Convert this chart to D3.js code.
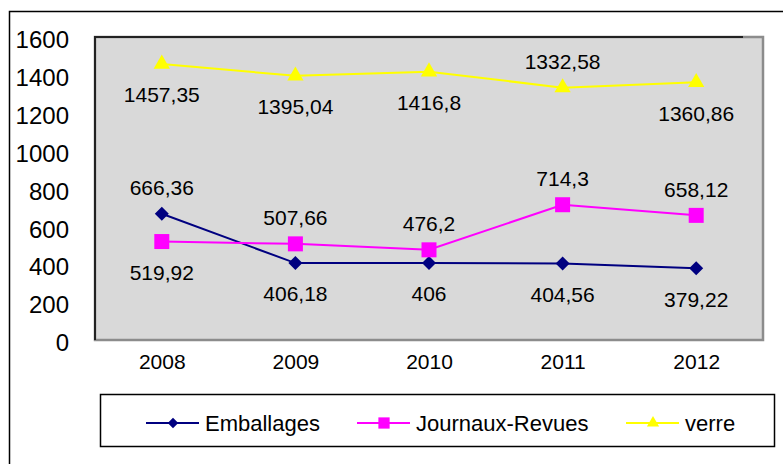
<!DOCTYPE html>
<html lang="fr">
<head>
  <meta charset="UTF-8">
  <title>Tonnages collectés</title>
  <script src="https://d3js.org/d3.v7.min.js"></script>
  <style>
    body {
      margin: 0;
      background: #ffffff;
      font-family: "Liberation Sans", Arial, sans-serif;
    }
    svg { display: block; }
    .tick-y text { font-size: 24px; fill: #000; }
    .tick-x text { font-size: 21px; fill: #000; }
    .label { font-size: 21px; fill: #000; }
    .legend text { font-size: 22px; fill: #000; }
  </style>
</head>
<body>
  <svg id="chart"></svg>
  <script>
    const years = ["2008", "2009", "2010", "2011", "2012"];
    const yTicks = [0, 200, 400, 600, 800, 1000, 1200, 1400, 1600];

    const emballages = [666.36, 406.18, 406, 404.56, 379.22];
    const journaux = [519.92, 507.66, 476.2, 714.3, 658.12];
    const verre = [1457.35, 1395.04, 1416.8, 1332.58, 1360.86];

    // where the value label sits relative to the point
    const emballagesPos = ["above", "below", "below", "below", "below"];
    const journauxPos = ["below", "above", "above", "above", "above"];
    const verrePos = ["below", "below", "below", "above", "below"];

    const series = [
      { name: "Emballages", values: emballages, pos: emballagesPos, color: "#000080", shape: "diamond" },
      { name: "Journaux-Revues", values: journaux, pos: journauxPos, color: "#ff00ff", shape: "square" },
      { name: "verre", values: verre, pos: verrePos, color: "#ffff00", shape: "triangle" }
    ];

    const W = 783, H = 464;
    const plot = { left: 95, top: 37, right: 763, bottom: 340 };

    const svg = d3.select("#chart").attr("width", W).attr("height", H);

    // outer chart frame (runs off the right and bottom edge)
    svg.append("rect")
       .attr("x", 9.5).attr("y", 11.5)
       .attr("width", W).attr("height", H)
       .attr("fill", "#fff")
       .attr("stroke", "#000")
       .attr("stroke-width", 1.5);

    // plot area
    svg.append("rect")
       .attr("x", plot.left).attr("y", plot.top)
       .attr("width", plot.right - plot.left).attr("height", plot.bottom - plot.top)
       .attr("fill", "#d9d9d9")
       .attr("stroke", "#8c8c8c")
       .attr("stroke-width", 2.5);
    svg.append("path")
       .attr("d", `M${plot.left},${plot.bottom} V${plot.top} H${plot.right - 20}`)
       .attr("fill", "none")
       .attr("stroke", "#222")
       .attr("stroke-width", 2);

    const x = d3.scalePoint()
                .domain(years)
                .range([plot.left, plot.right])
                .padding(0.5);

    const y = d3.scaleLinear()
                .domain([0, 1600])
                .range([plot.bottom, plot.top]);

    // axes, labels only
    const yAxis = svg.append("g")
       .attr("class", "tick-y")
       .attr("transform", `translate(${plot.left - 26}, 3)`)
       .call(d3.axisLeft(y).tickValues(yTicks).tickSize(0).tickPadding(0).tickFormat(d3.format("d")));
    yAxis.select(".domain").remove();
    yAxis.selectAll("text").attr("font-family", null).attr("font-size", null);

    const xAxis = svg.append("g")
       .attr("class", "tick-x")
       .attr("transform", `translate(0, ${plot.bottom + 14})`)
       .call(d3.axisBottom(x).tickSize(0).tickPadding(0));
    xAxis.select(".domain").remove();
    xAxis.selectAll("text").attr("font-family", null).attr("font-size", null).attr("dy", "0.71em");

    function marker(shape, scale) {
      if (shape === "diamond") return d3.symbol().type(d3.symbolSquare).size(98 * scale * scale)();
      if (shape === "square") return d3.symbol().type(d3.symbolSquare).size(225 * scale * scale)();
      return d3.symbol().type(d3.symbolTriangle).size(115 * scale * scale)();
    }

    const line = d3.line()
                   .x((d, i) => x(years[i]))
                   .y(d => y(d));

    series.forEach(s => {
      svg.append("path")
         .datum(s.values)
         .attr("fill", "none")
         .attr("stroke", s.color)
         .attr("stroke-width", 2)
         .attr("d", line);

      svg.selectAll(null)
         .data(s.values)
         .enter()
         .append("path")
         .attr("d", marker(s.shape, 1))
         .attr("fill", s.color)
         .attr("transform", (d, i) => `translate(${x(years[i])}, ${y(d)})` + (s.shape === "diamond" ? " rotate(45)" : ""));
    });

    series.forEach(s => {
      svg.selectAll(null)
         .data(s.values)
         .enter()
         .append("text")
         .attr("class", "label")
         .attr("text-anchor", "middle")
         .attr("x", (d, i) => x(years[i]))
         .attr("y", (d, i) => y(d) + (s.pos[i] === "above" ? -26 : 31))
         .attr("dy", "0.35em")
         .text(d => String(d).replace(".", ","));
    });

    // legend
    const legend = svg.append("g").attr("class", "legend");
    legend.append("rect")
          .attr("x", 100.5).attr("y", 394.5)
          .attr("width", 674).attr("height", 52)
          .attr("fill", "#fff")
          .attr("stroke", "#000")
          .attr("stroke-width", 1.5);

    const legendX = [146, 357, 626];
    series.forEach((s, i) => {
      const g = legend.append("g").attr("transform", `translate(${legendX[i]}, 423)`);
      g.append("line")
       .attr("x1", 0).attr("x2", 53)
       .attr("stroke", s.color)
       .attr("stroke-width", 2);
      g.append("path")
       .attr("d", marker(s.shape, 0.75))
       .attr("fill", s.color)
       .attr("transform", "translate(27, 0)" + (s.shape === "diamond" ? " rotate(45)" : ""));
      g.append("text")
       .attr("x", 59)
       .attr("dy", "0.35em")
       .text(s.name);
    });
  </script>
</body>
</html>
